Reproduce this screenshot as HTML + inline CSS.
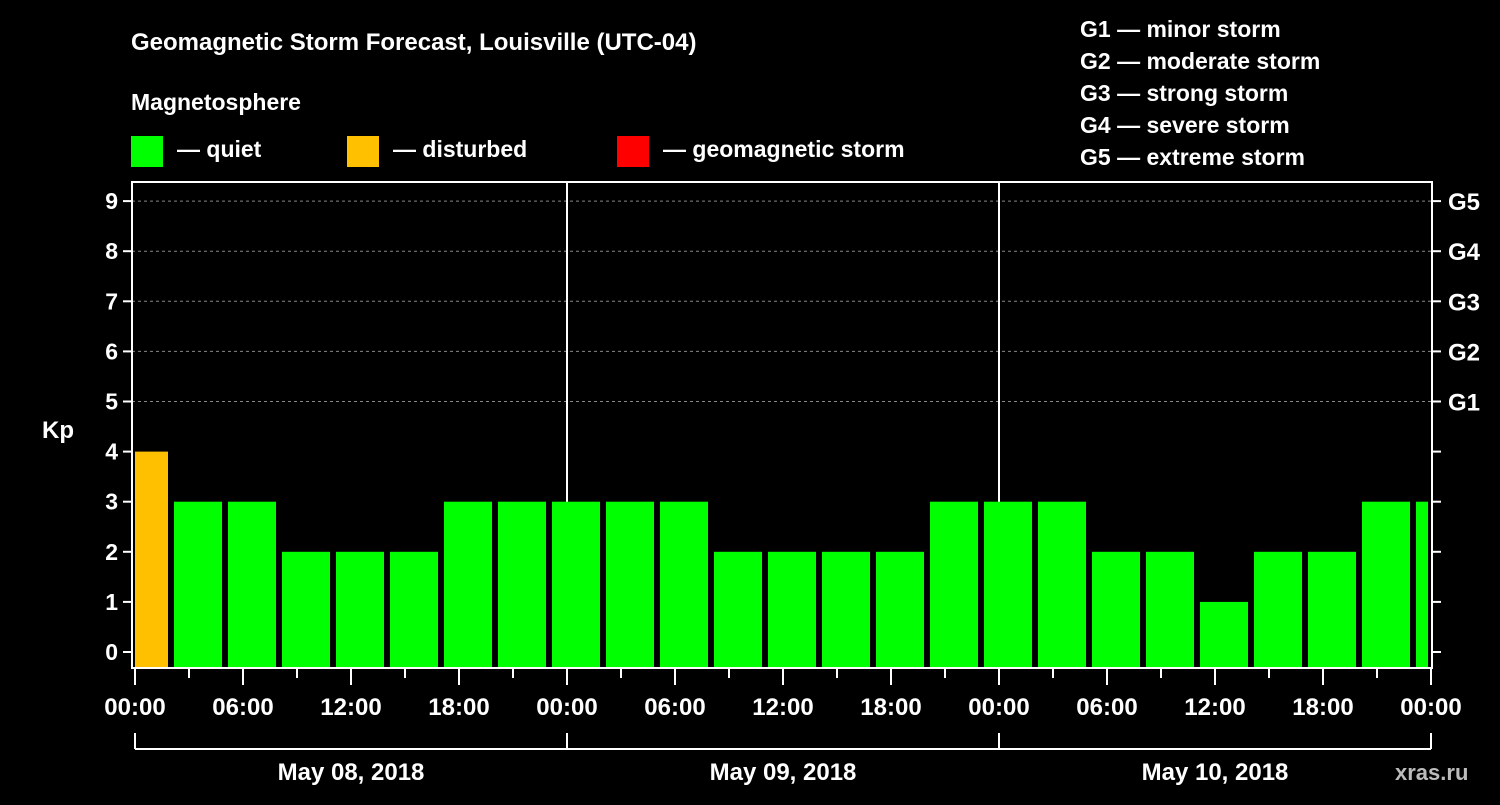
<!DOCTYPE html>
<html><head><meta charset="utf-8"><style>
html,body{margin:0;padding:0;background:#000;}
svg text{font-family:"Liberation Sans",Arial,sans-serif;font-weight:bold;fill:#fff;}
</style></head><body>
<svg id="chart" width="1500" height="800" xmlns="http://www.w3.org/2000/svg">
<rect width="1500" height="800" fill="#000"/>
<text x="131" y="50" font-size="24">Geomagnetic Storm Forecast, Louisville (UTC-04)</text>
<text x="131" y="110" font-size="23">Magnetosphere</text>
<g>
<rect x="131" y="136" width="32" height="31" fill="#00ff00"/>
<text x="177" y="157" font-size="23">— quiet</text>
<rect x="347" y="136" width="32" height="31" fill="#ffc000"/>
<text x="393" y="157" font-size="23">— disturbed</text>
<rect x="617" y="136" width="32" height="31" fill="#ff0000"/>
<text x="663" y="157" font-size="23">— geomagnetic storm</text>
</g>
<g font-size="23">
<text x="1080" y="37">G1 — minor storm</text>
<text x="1080" y="69">G2 — moderate storm</text>
<text x="1080" y="101">G3 — strong storm</text>
<text x="1080" y="133">G4 — severe storm</text>
<text x="1080" y="165">G5 — extreme storm</text>
</g>
<text x="42" y="438" font-size="24">Kp</text>
<text x="1395" y="780" font-size="22" fill="#bbb" style="fill:#bbb">xras.ru</text>
<g id="grid"></g><g id="bars"></g><g id="axes"></g>
</svg>
<script>
const kpValues=[4,3,3,2,2,2,3,3,3,3,3,2,2,2,2,3,3,3,2,2,1,2,2,3,3];
const yTicks=[0,1,2,3,4,5,6,7,8,9];
const gLabels=["G1","G2","G3","G4","G5"];
const timeLabels=["00:00","06:00","12:00","18:00","00:00","06:00","12:00","18:00","00:00","06:00","12:00","18:00","00:00"];
const dateLabels=["May 08, 2018","May 09, 2018","May 10, 2018"];
const firstBinHour=-1;
const NS="http://www.w3.org/2000/svg";
const L=132,R=1432,T=182,B=668,X0=135,PXH=18;
const xs=h=>X0+h*PXH;
const ys=v=>652-v*50.1;
function mk(tag,parent,attrs){const e=document.createElementNS(NS,tag);for(const k in attrs)e.setAttribute(k,attrs[k]);document.getElementById(parent).appendChild(e);return e;}
// grid
for(let v=5;v<=9;v++){const l=mk('line','grid',{x1:L,x2:R,y1:ys(v),y2:ys(v),stroke:'#888','stroke-dasharray':'3,3','stroke-width':1});

}
for(let d=1;d<dateLabels.length;d++){const l=mk('line','grid',{x1:xs(24*d),x2:xs(24*d),y1:T,y2:B,stroke:'#fff','stroke-width':2});

}
// bars
kpValues.forEach((v,i)=>{const h0=firstBinHour+3*i;let x1=xs(h0)+3,x2=x1+48;x1=Math.max(x1,L+3);x2=Math.min(x2,R-4);
const c=v>=5?'#ff0000':(v>=4?'#ffc000':'#00ff00');
const r=mk('rect','bars',{x:x1,y:ys(v),width:Math.max(0,x2-x1),height:B-ys(v),fill:c});

});
// axes frame
const f=mk('rect','axes',{x:L,y:T,width:R-L,height:B-T,fill:'none',stroke:'#fff','stroke-width':2});


yTicks.forEach(v=>{mk('line','axes',{x1:L-9,x2:L,y1:ys(v),y2:ys(v),stroke:'#fff','stroke-width':2});
mk('line','axes',{x1:R,x2:R+9,y1:ys(v),y2:ys(v),stroke:'#fff','stroke-width':2});
const t=mk('text','axes',{x:L-14,y:ys(v)+8,'font-size':23,'text-anchor':'end'});t.textContent=v;

});
gLabels.forEach((g,i)=>{const t=mk('text','axes',{x:R+16,y:ys(5+i)+9,'font-size':24});t.textContent=g;

});
for(let h=0;h<=72;h+=3){const major=h%6===0;mk('line','axes',{x1:xs(h),x2:xs(h),y1:B,y2:B+(major?17:10),stroke:'#fff','stroke-width':2});}
timeLabels.forEach((s,i)=>{const t=mk('text','axes',{x:xs(6*i),y:715,'font-size':24,'text-anchor':'middle'});t.textContent=s;

});
mk('line','axes',{x1:xs(0),x2:xs(72),y1:749,y2:749,stroke:'#fff','stroke-width':2});
for(let d=0;d<=dateLabels.length;d++)mk('line','axes',{x1:xs(24*d),x2:xs(24*d),y1:733,y2:749,stroke:'#fff','stroke-width':2});
dateLabels.forEach((s,i)=>{const t=mk('text','axes',{x:xs(24*i+12),y:780,'font-size':24,'text-anchor':'middle'});t.textContent=s;

});
</script>
</body></html>
